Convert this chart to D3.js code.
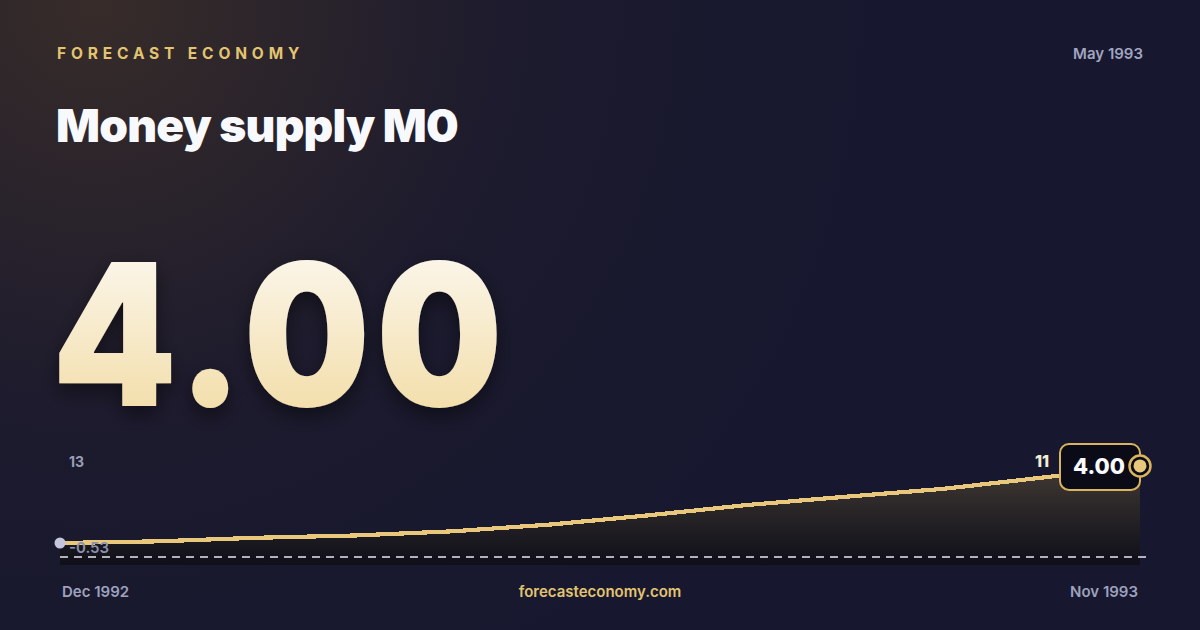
<!DOCTYPE html>
<html>
<head>
<meta charset="utf-8">
<script src="https://cdn.jsdelivr.net/npm/d3@7/dist/d3.min.js"></script>
<style>
  html, body { margin: 0; padding: 0; background: #15172b; }
  svg { display: block; }
</style>
</head>
<body>
<svg id="chart" width="1200" height="630"></svg>
<script>
// ---- data ----
const months = ["Dec 1992","Jan 1993","Feb 1993","Mar 1993","Apr 1993","May 1993","Jun 1993","Jul 1993","Aug 1993","Sep 1993","Oct 1993","Nov 1993"];
const values = [-0.53, -0.28, 0.25, 0.59, 1.22, 2.24, 3.62, 5.16, 6.39, 7.58, 9.25, 11.0];
const yTicks = [-0.53, 13];
const headlineValue = "4.00";
const headlineDate = "May 1993";
const brand = "FORECAST ECONOMY";
const title = "Money supply M0";
const site = "forecasteconomy.com";
const endLabel = "11";

const svg = d3.select("#chart");
const W = 1200, H = 630;
const defs = svg.append("defs");

// background
const bg = defs.append("radialGradient").attr("id","bgGlow")
  .attr("cx", 0.08).attr("cy", 0).attr("r", 0.75).attr("fx",0.08).attr("fy",0)
  .attr("gradientTransform","scale(1,1.9)");
bg.append("stop").attr("offset","0%").attr("stop-color","#372c29");
bg.append("stop").attr("offset","45%").attr("stop-color","#1d1b2d");
bg.append("stop").attr("offset","100%").attr("stop-color","#16172e").attr("stop-opacity",0);
svg.append("rect").attr("width",W).attr("height",H).attr("fill","#17182f");
svg.append("rect").attr("width",W).attr("height",H).attr("fill","url(#bgGlow)");

// number gradient
const ng = defs.append("linearGradient").attr("id","numGrad").attr("x1",0).attr("y1",0).attr("x2",0).attr("y2",1);
ng.append("stop").attr("offset","0%").attr("stop-color","#fdfcfa");
ng.append("stop").attr("offset","100%").attr("stop-color","#f1d89a");
const sh = defs.append("filter").attr("id","shadow").attr("x","-10%").attr("y","-10%").attr("width","130%").attr("height","140%");
sh.append("feDropShadow").attr("dx",0).attr("dy",8).attr("stdDeviation",10).attr("flood-color","#000").attr("flood-opacity",0.45);

// area gradient
const ag = defs.append("linearGradient").attr("id","areaGrad").attr("gradientUnits","userSpaceOnUse")
  .attr("x1",0).attr("y1",455).attr("x2",0).attr("y2",565);
ag.append("stop").attr("offset","0%").attr("stop-color","#4a3f38");
ag.append("stop").attr("offset","45%").attr("stop-color","#2c2829");
ag.append("stop").attr("offset","100%").attr("stop-color","#0f0f1a");

// texts
svg.append("text").attr("x",57).attr("y",59).text(brand)
  .attr("font-family","Inter, 'Open Sans', sans-serif").attr("font-weight",700)
  .attr("font-size",15.5).attr("letter-spacing",4.85).attr("fill","#e3c470");
svg.append("text").attr("x",1143).attr("y",59).attr("text-anchor","end").text(headlineDate)
  .attr("font-family","Inter, sans-serif").attr("font-weight",600)
  .attr("font-size",15).attr("fill","#a2a5c0");
svg.append("text").attr("x",56).attr("y",142).text(title)
  .attr("font-family","Inter, sans-serif").attr("font-weight",900)
  .attr("font-size",46).attr("letter-spacing",-0.8).attr("fill","#f8f9fd");
svg.append("text").attr("transform","translate(52,406) scale(0.9,1)").text(headlineValue)
  .attr("font-family","Inter, sans-serif").attr("font-weight",900)
  .attr("font-size",198).attr("letter-spacing",6.5).attr("fill","url(#numGrad)")
  .attr("filter","url(#shadow)");

// scales
const x = d3.scalePoint().domain(months).range([60, 1140]);
const y = d3.scaleLinear().domain([-0.53, 13]).range([543, 452.6]);
const bottomY = 565;

const area = d3.area().x((d,i)=>x(months[i])).y0(bottomY).y1(d=>y(d));
const line = d3.line().x((d,i)=>x(months[i])).y(d=>y(d));

svg.append("path").datum(values).attr("d",area).attr("fill","url(#areaGrad)");
svg.append("line").attr("x1",60).attr("x2",1146).attr("y1",557).attr("y2",557)
  .attr("stroke","#e8e8f0").attr("stroke-width",1.5).attr("stroke-dasharray","8 6");
svg.append("path").datum(values).attr("d",line).attr("fill","none")
  .attr("stroke","#e9c77b").attr("stroke-width",4.2).attr("shape-rendering","crispEdges");

// start dot
svg.append("circle").attr("cx",x(months[0])).attr("cy",y(values[0])).attr("r",5.5).attr("fill","#c3c6dc");

// y tick labels
svg.append("text").attr("x",69).attr("y",y(yTicks[1])+14).text(yTicks[1])
  .attr("font-family","Inter, sans-serif").attr("font-weight",700).attr("font-size",14).attr("fill","#9a9db8");
svg.append("text").attr("x",69).attr("y",y(yTicks[0])+9.5).text(yTicks[0].toFixed(2))
  .attr("font-family","Inter, sans-serif").attr("font-weight",600).attr("font-size",15).attr("fill","#8d91ae");

// end label
const lastI = values.length-1;
const ex = x(months[lastI]), ey = y(values[lastI]);
svg.append("text").attr("x",ex-91).attr("y",ey+1.5).attr("text-anchor","end").text(endLabel)
  .attr("font-family","Inter, sans-serif").attr("font-weight",800).attr("font-size",16).attr("fill","#f3ecd9");

// badge
svg.append("rect").attr("x",ex-80).attr("y",ey-22).attr("width",80).attr("height",46).attr("rx",9)
  .attr("fill","#0b0b18").attr("stroke","#d9b45c").attr("stroke-width",2);
svg.append("text").attr("x",ex-41).attr("y",ey+8.5).attr("text-anchor","middle").text(headlineValue)
  .attr("font-family","Inter, sans-serif").attr("font-weight",800).attr("font-size",22).attr("fill","#fbfbff");
svg.append("circle").attr("cx",ex).attr("cy",ey).attr("r",10.5).attr("fill","#0b0b18")
  .attr("stroke","#d9b45c").attr("stroke-width",2.5);
svg.append("circle").attr("cx",ex).attr("cy",ey).attr("r",6.5).attr("fill","#e8c87c");

// bottom labels
svg.append("text").attr("x",62).attr("y",597).text(months[0])
  .attr("font-family","Inter, sans-serif").attr("font-weight",600).attr("font-size",15).attr("fill","#9ea2bd");
svg.append("text").attr("x",600).attr("y",597).attr("text-anchor","middle").text(site)
  .attr("font-family","Inter, sans-serif").attr("font-weight",600).attr("font-size",15).attr("fill","#e3c470");
svg.append("text").attr("x",1138).attr("y",597).attr("text-anchor","end").text(months[lastI])
  .attr("font-family","Inter, sans-serif").attr("font-weight",600).attr("font-size",15).attr("fill","#9ea2bd");
</script>
</body>
</html>
